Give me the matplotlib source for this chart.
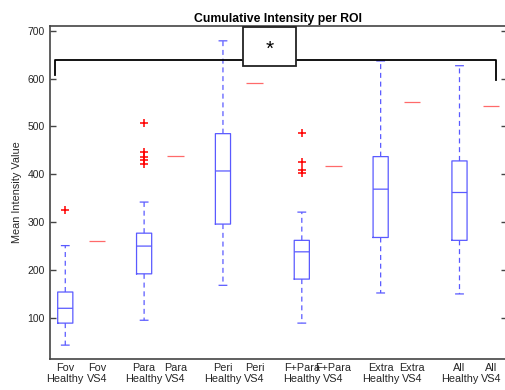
import numpy as np
import matplotlib
matplotlib.use('Agg')
import matplotlib.pyplot as plt
from matplotlib.patches import Rectangle

# ROI groups, each with a healthy cohort (box) and a single VS4 value (line)
rois = ['Fov', 'Para', 'Peri', 'F+Para', 'Extra', 'All']

# healthy box statistics
h_med = [120, 250, 407, 238, 369, 362]
h_q1 = [89, 192, 296, 181, 268, 262]
h_q3 = [154, 277, 485, 262, 437, 428]
h_wlo = [43, 95, 168, 89, 152, 150]
h_whi = [251, 342, 679, 321, 637, 627]
h_out = [[326], [508, 446, 437, 429, 422], [], [487, 425, 410, 403], [], []]

# VS4 values
vs4 = [260, 439, 590, 418, 552, 542]

# significance bracket
sig_y = 639
sig_left_drop = 608
sig_right_drop = 597


def main():
    plt.rcParams['font.family'] = ['Liberation Sans', 'DejaVu Sans']

    fig = plt.figure(figsize=(5.05, 3.9), dpi=100)
    ax = fig.add_axes([49.5 / 505, 31 / 390, 457.3 / 505, 333 / 390])

    pos_h = np.array([1, 3.5, 6, 8.5, 11, 13.5])
    pos_v = pos_h + 1

    stats = []
    for i in range(len(rois)):
        stats.append(dict(med=h_med[i], q1=h_q1[i], q3=h_q3[i],
                          whislo=h_wlo[i], whishi=h_whi[i], fliers=h_out[i]))

    blue = '#5a5aff'
    bp = ax.bxp(stats, positions=pos_h, widths=0.48, capwidths=0.24,
                flierprops=dict(marker='+', markeredgecolor='red', markersize=6,
                                markeredgewidth=1.1, linestyle='none'),
                manage_ticks=False)
    for key in ['boxes', 'medians', 'whiskers', 'caps']:
        for ln in bp[key]:
            ln.set_color(blue)
            ln.set_linewidth(0.9)
            ln.set_snap(False)
    for ln in bp['whiskers']:
        ln.set_linestyle((0, (4, 3)))

    ax.hlines(vs4, pos_v - 0.26, pos_v + 0.26, color='#ff6a6a', linewidth=0.9)

    # bracket and star box
    ax.plot([0.69, 0.69, 14.65, 14.65],
            [sig_left_drop, sig_y, sig_y, sig_right_drop],
            color='black', linewidth=1.3, zorder=4)
    ax.add_patch(Rectangle((6.64, 625.4), 1.69, 83, facecolor='white',
                           edgecolor='#222222', linewidth=1.3, zorder=5,
                           clip_on=False))
    ax.text(7.48, 662, '*', fontsize=15, ha='center', va='center',
            zorder=6)

    ticks = []
    labels = []
    for i in range(len(rois)):
        ticks += [pos_h[i], pos_v[i]]
        labels += [rois[i] + '\nHealthy', rois[i] + '\nVS4']
    ax.set_xticks(ticks)
    ax.set_xticklabels(labels, fontsize=7.8, color='#262626', linespacing=1.15)
    ax.set_yticks([100, 200, 300, 400, 500, 600, 700])
    ax.tick_params(axis='y', direction='in', length=4, width=1, right=True,
                   labelsize=7.5, labelcolor='#262626', color='#444444')
    ax.tick_params(axis='x', length=0, pad=3)

    ax.set_xlim(0.5, 15)
    ax.set_ylim(14, 710)

    for s in ax.spines.values():
        s.set_color('#444444')
        s.set_linewidth(1.2)

    ax.set_ylabel('Mean Intensity Value', fontsize=7.8, color='#262626')
    ax.yaxis.set_label_coords(-0.06, 0.5)
    ax.set_title('Cumulative Intensity per ROI', fontsize=8.8,
                 fontweight='bold', pad=3)

    fig.savefig('out.png', dpi=100)


if __name__ == '__main__':
    main()
